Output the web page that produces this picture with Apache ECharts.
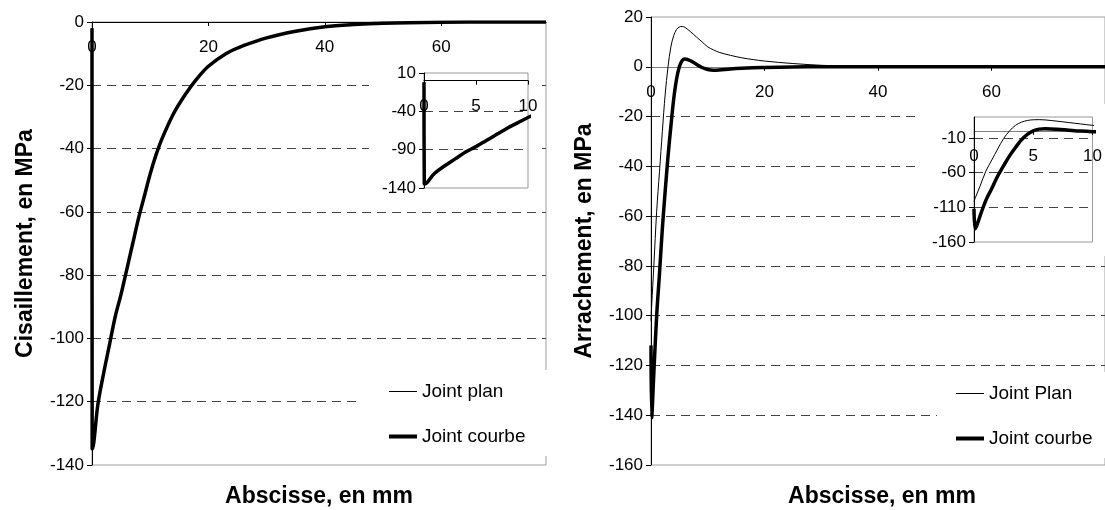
<!DOCTYPE html>
<html lang="fr">
<head>
<meta charset="UTF-8">
<title>Cisaillement et arrachement</title>
<script src="https://cdn.jsdelivr.net/npm/echarts@6/dist/echarts.min.js"></script>
<style>
  html, body { margin: 0; padding: 0; background: #fff; }
  #chart { width: 1105px; height: 510px; }
</style>
</head>
<body>
<div id="chart"></div>
<script>
// abscisse (mm) et contraintes de cisaillement (MPa), graphe de gauche
var shearX      = [0, 0.03, 0.3, 1, 2, 3, 4, 5, 6, 7, 8, 9, 10, 11, 12, 14, 16, 18, 20, 23, 26, 30, 35, 40, 45, 50, 60, 70, 78];
var shearPlan   = [-2, -135, -133, -121, -111, -102, -93, -86, -78, -70, -62, -55, -48, -42, -37, -29, -23, -18, -14, -10, -7.5, -5, -2.9, -1.5, -0.8, -0.4, -0.1, 0, 0];
var shearCourbe = [-2, -135, -133, -121, -111, -102, -93, -86, -78, -70, -62, -55, -48, -42, -37, -29, -23, -18, -14, -10, -7.5, -5, -2.9, -1.5, -0.8, -0.4, -0.1, 0, 0];

// abscisse (mm) et contraintes d'arrachement (MPa), graphe de droite
var peelX      = [0, 0.12, 0.5, 1, 1.5, 2, 2.5, 3, 3.5, 4, 4.5, 5, 5.5, 6, 7, 8, 9, 10, 11, 12, 14, 16, 18, 20, 25, 30, 35, 40, 50, 60, 80];
var peelPlan   = [-102, -96, -80, -58, -42, -26, -11, 0, 8, 12.5, 15, 16, 16.2, 15.8, 14, 12, 10, 8, 6.8, 5.8, 4.6, 3.6, 2.9, 2.3, 1.3, 0.6, 0.2, 0.05, 0, 0, 0];
var peelCourbe = [-112, -141, -123, -100, -83, -65, -50, -36, -24, -13, -5, 0, 2.5, 3.1, 2.4, 1, -0.3, -1.1, -1.4, -1.3, -0.9, -0.6, -0.4, -0.3, -0.1, 0, 0, 0, 0, 0, 0];

var legendLeft  = ['Joint plan', 'Joint courbe'];
var legendRight = ['Joint Plan', 'Joint courbe'];

var font = 'Liberation Sans, Arial, sans-serif';
var dashed = { color: '#444', width: 1, type: [9, 6] };
var thin = 1, thick = 3.5;

// zones de tracé et bornes de l'axe vertical
var grids = [
    { left: 92,  top: 22,  width: 454, height: 443, yMin: -140, yMax: 0 },
    { left: 424, top: 73,  width: 104, height: 115, yMin: -140, yMax: 10 },
    { left: 651, top: 17,  width: 472, height: 448, yMin: -160, yMax: 20 },
    { left: 974, top: 117, width: 122, height: 125, yMin: -160, yMax: 20 }
];

function pairs(xs, ys) {
    return ys.map(function (y, i) { return [xs[i], y]; });
}

// l'axe des abscisses passe par y = 0 : on le remonte depuis le bas de la zone
function zeroOffset(g) {
    return -g.height * (0 - g.yMin) / (g.yMax - g.yMin);
}

function xAxisOf(i, max, interval, lineColor, z) {
    return {
        gridIndex: i, type: 'value', min: 0, max: max, interval: interval, z: z,
        position: 'bottom', offset: zeroOffset(grids[i]),
        axisLine: { onZero: false, lineStyle: { color: lineColor, width: 1 } },
        axisTick: { length: 4, lineStyle: { color: '#000' } },
        axisLabel: { margin: 17, fontSize: 17, color: '#000', fontFamily: font, showMaxLabel: i === 1 || i === 3 },
        splitLine: { show: false }
    };
}

function yAxisOf(i, interval, name, z, showMax) {
    return {
        gridIndex: i, type: 'value', min: grids[i].yMin, max: grids[i].yMax, interval: interval, z: z,
        name: name, nameLocation: 'middle', nameGap: 55,
        nameTextStyle: { fontSize: 23, fontWeight: 'bold', color: '#000', fontFamily: font },
        axisLine: { onZero: false, lineStyle: { color: '#000', width: 1 } },
        axisTick: { length: 5, lineStyle: { color: '#000' } },
        axisLabel: { margin: 8, fontSize: 17, color: '#000', fontFamily: font, showMaxLabel: showMax },
        splitLine: { show: true, showMinLine: false, showMaxLine: false, lineStyle: dashed }
    };
}

function line(name, data, width, axis, z) {
    return {
        name: name, type: 'line', data: data, xAxisIndex: axis, yAxisIndex: axis,
        symbol: 'none', smooth: 0.35, z: z,
        lineStyle: { color: '#000', width: width }, itemStyle: { color: '#000' },
        emphasis: { disabled: true }
    };
}

function gridOf(g, inset) {
    return {
        left: g.left, top: g.top, width: g.width, height: g.height, show: true,
        borderColor: inset ? '#999' : '#a0a0a0', borderWidth: 1,
        backgroundColor: inset ? '#fff' : 'transparent', z: inset ? 5 : 0
    };
}

function legendOf(left, top, padding, names) {
    return {
        left: left, top: top, orient: 'vertical', padding: padding, itemGap: 26,
        itemWidth: 28, itemHeight: 14, backgroundColor: '#fff', selectedMode: false, z: 8,
        data: [
            { name: names[0], lineStyle: { width: thin, color: '#000' } },
            { name: names[1], lineStyle: { width: thick + 0.5, color: '#000' } }
        ],
        itemStyle: { opacity: 0 },
        textStyle: { fontSize: 19, color: '#000', fontFamily: font }
    };
}

var titleStyle = { fontSize: 23, fontWeight: 'bold', color: '#000', fontFamily: font };

var myChart = echarts.init(document.getElementById('chart'), null, { renderer: 'canvas' });

myChart.setOption({
    animation: false,
    backgroundColor: '#fff',
    title: [
        { text: 'Abscisse, en mm', left: 319, top: 485, textAlign: 'center', padding: 0, textStyle: titleStyle },
        { text: 'Abscisse, en mm', left: 882, top: 485, textAlign: 'center', padding: 0, textStyle: titleStyle }
    ],
    grid: [gridOf(grids[0], false), gridOf(grids[1], true), gridOf(grids[2], false), gridOf(grids[3], true)],
    // fonds blancs des encarts
    graphic: [
        { type: 'rect', z: 3, silent: true, shape: { x: 369, y: 60, width: 167, height: 140 }, style: { fill: '#fff' } },
        { type: 'rect', z: 3, silent: true, shape: { x: 921, y: 104, width: 184, height: 152 }, style: { fill: '#fff' } }
    ],
    legend: [
        legendOf(361, 370, [12, 30, 10, 26], legendLeft),
        legendOf(937, 372, [12, 100, 10, 17], legendRight)
    ],
    xAxis: [
        xAxisOf(0, 78, 20, '#000', 1),
        xAxisOf(1, 10, 5, '#000', 6),
        xAxisOf(2, 80, 20, '#808080', 1),
        xAxisOf(3, 10, 5, '#808080', 6)
    ],
    yAxis: [
        yAxisOf(0, 20, 'Cisaillement, en MPa', 0, true),
        yAxisOf(1, 50, '', 6, true),
        yAxisOf(2, 20, 'Arrachement, en MPa', 0, true),
        yAxisOf(3, 50, '', 6, false)
    ],
    series: [
        line('Joint plan', pairs(shearX, shearPlan), thin, 0, 2),
        line('Joint courbe', pairs(shearX, shearCourbe), thick, 0, 2),
        line('Joint plan', pairs(shearX, shearPlan), thin, 1, 7),
        line('Joint courbe', pairs(shearX, shearCourbe), thick, 1, 7),
        line('Joint Plan', pairs(peelX, peelPlan), thin, 2, 2),
        line('Joint courbe', pairs(peelX, peelCourbe), thick, 2, 2),
        line('Joint Plan', pairs(peelX, peelPlan), thin, 3, 7),
        line('Joint courbe', pairs(peelX, peelCourbe), thick, 3, 7)
    ]
});
</script>
</body>
</html>
